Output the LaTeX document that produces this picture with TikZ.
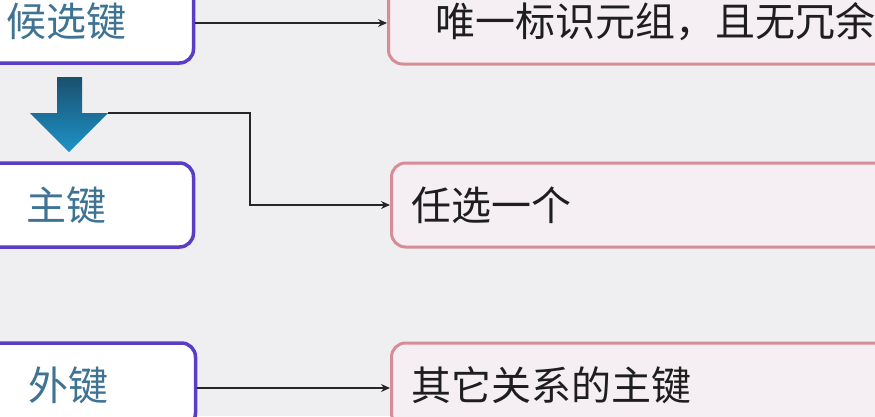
\documentclass[tikz,border=0pt]{standalone}
\usepackage{fontspec}
\newfontfamily\cjk{Noto Sans CJK SC}
\usetikzlibrary{arrows.meta}
\definecolor{bgc}{HTML}{EFEFF1}
\definecolor{lborder}{HTML}{5A3CC6}
\definecolor{rborder}{HTML}{D78D98}
\definecolor{rfill}{HTML}{F5EEF2}
\definecolor{ltext}{HTML}{3E7394}
\definecolor{rtext}{HTML}{1E1E1E}
\definecolor{artop}{HTML}{1B4F6E}
\definecolor{arbot}{HTML}{1C93C8}
\tikzset{
  lbox/.style={draw=lborder, line width=3.5pt, fill=white, rounded corners=14pt,
    minimum width=255pt, minimum height=84pt, inner sep=0pt,
    text=ltext, font=\cjk\fontsize{40}{44}\selectfont},
  rbox/.style={draw=rborder, line width=3pt, fill=rfill, rounded corners=14pt,
    minimum height=84pt, inner sep=0pt, anchor=west,
    text=rtext, font=\cjk\fontsize{40}{44}\selectfont},
  conn/.style={draw=black!85, line width=1.3pt, -{Stealth[length=9pt,width=8pt]}},
}
\begin{document}
\begin{tikzpicture}[x=1pt,y=-1pt]
\fill[bgc] (0,0) rectangle (875,416);
\useasboundingbox (0,0) rectangle (875,416);

\node[lbox] (b1) at (66,21) {\raisebox{-4pt}{候选键}};
\node[lbox] (b2) at (66,205) {主键};
\node[lbox] (b3) at (68,385) {外键};

\node[rbox, minimum width=534pt, text width=534pt, align=center] (r1) at (387,22) {\raisebox{-4pt}{唯一标识元组，且无冗余}};
\node[rbox, minimum width=520pt, text width=520pt, align=left] (r2) at (390,205) {\hspace*{20pt}任选一个};
\node[rbox, minimum width=520pt, text width=520pt, align=left] (r3) at (390,385) {\hspace*{20pt}其它关系的主键};

\shade[top color=artop, bottom color=arbot]
  (57,77) -- (82,77) -- (82,113) -- (108,113) -- (69,152) -- (30,113) -- (57,113) -- cycle;
\coordinate (ar) at (108,113);
\coordinate (bend) at (250,113);

\draw[conn] (b1.east |- 0,23) -- (r1.west |- 0,23);
\draw[conn] (ar) -- (bend) |- (r2.west);
\draw[conn] (b3.east |- 0,388) -- (r3.west |- 0,388);
\end{tikzpicture}
\end{document}
